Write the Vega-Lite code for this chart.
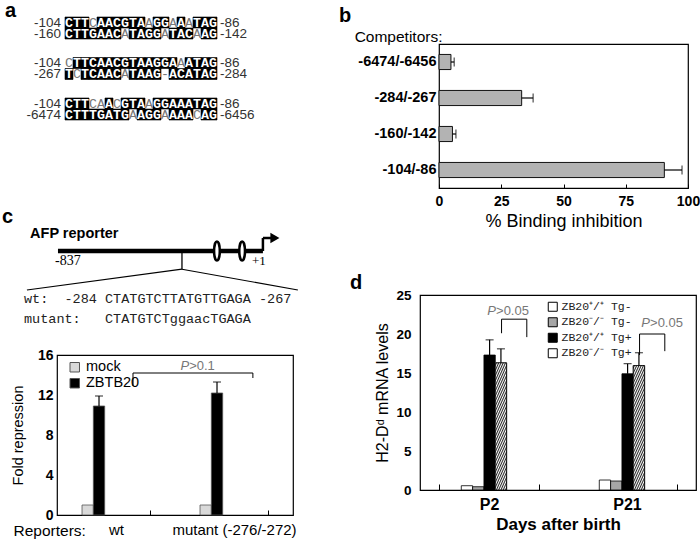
{
"$schema": "https://vega.github.io/schema/vega-lite/v6.json",
"background": "white",
"padding": {"left": 2, "top": 0, "right": 0, "bottom": 0},
"config": {
  "font": "Liberation Sans",
  "view": {"stroke": null},
  "axis": {"grid": false, "domainColor": "#000", "tickColor": "#000", "labelColor": "#000", "titleColor": "#000", "labelFont": "Liberation Sans", "titleFont": "Liberation Sans", "labelOverlap": false},
  "title": {"anchor": "start", "frame": "group", "fontSize": 20, "fontWeight": "bold", "color": "#000", "font": "Liberation Sans", "baseline": "alphabetic"},
  "legend": {"labelColor": "#000"}
},
"spacing": 39,
"resolve": {"scale": {"fill": "independent"}, "legend": {"fill": "independent"}},
"hconcat": [
  {"spacing": 19, "resolve": {"scale": {"fill": "independent"}, "legend": {"fill": "independent"}}, "vconcat": [
    {
      "width": 168, "height": 185,
      "title": {"text": "a", "dx": -52, "offset": -17.5},
      "data": {"values": [
        {"b":1,"s":1,"c":1,"t":"C","k":1},{"b":1,"s":1,"c":2,"t":"T","k":1},{"b":1,"s":1,"c":3,"t":"T","k":1},{"b":1,"s":1,"c":4,"t":"C","k":0},{"b":1,"s":1,"c":5,"t":"A","k":1},{"b":1,"s":1,"c":6,"t":"A","k":1},{"b":1,"s":1,"c":7,"t":"C","k":1},{"b":1,"s":1,"c":8,"t":"G","k":1},{"b":1,"s":1,"c":9,"t":"T","k":1},{"b":1,"s":1,"c":10,"t":"A","k":1},{"b":1,"s":1,"c":11,"t":"A","k":0},{"b":1,"s":1,"c":12,"t":"G","k":1},{"b":1,"s":1,"c":13,"t":"G","k":1},{"b":1,"s":1,"c":14,"t":"A","k":0},{"b":1,"s":1,"c":15,"t":"A","k":1},{"b":1,"s":1,"c":16,"t":"A","k":0},{"b":1,"s":1,"c":17,"t":"T","k":1},{"b":1,"s":1,"c":18,"t":"A","k":1},{"b":1,"s":1,"c":19,"t":"G","k":1},
        {"b":1,"s":2,"c":1,"t":"C","k":1},{"b":1,"s":2,"c":2,"t":"T","k":1},{"b":1,"s":2,"c":3,"t":"T","k":1},{"b":1,"s":2,"c":4,"t":"G","k":1},{"b":1,"s":2,"c":5,"t":"A","k":1},{"b":1,"s":2,"c":6,"t":"A","k":1},{"b":1,"s":2,"c":7,"t":"C","k":1},{"b":1,"s":2,"c":8,"t":"A","k":0},{"b":1,"s":2,"c":9,"t":"T","k":1},{"b":1,"s":2,"c":10,"t":"A","k":1},{"b":1,"s":2,"c":11,"t":"G","k":1},{"b":1,"s":2,"c":12,"t":"G","k":1},{"b":1,"s":2,"c":13,"t":"A","k":0},{"b":1,"s":2,"c":14,"t":"T","k":1},{"b":1,"s":2,"c":15,"t":"A","k":1},{"b":1,"s":2,"c":16,"t":"C","k":1},{"b":1,"s":2,"c":17,"t":"A","k":0},{"b":1,"s":2,"c":18,"t":"A","k":1},{"b":1,"s":2,"c":19,"t":"G","k":1},
        {"b":2,"s":1,"c":1,"t":"C","k":0},{"b":2,"s":1,"c":2,"t":"T","k":1},{"b":2,"s":1,"c":3,"t":"T","k":1},{"b":2,"s":1,"c":4,"t":"C","k":1},{"b":2,"s":1,"c":5,"t":"A","k":1},{"b":2,"s":1,"c":6,"t":"A","k":1},{"b":2,"s":1,"c":7,"t":"C","k":1},{"b":2,"s":1,"c":8,"t":"G","k":1},{"b":2,"s":1,"c":9,"t":"T","k":1},{"b":2,"s":1,"c":10,"t":"A","k":1},{"b":2,"s":1,"c":11,"t":"A","k":1},{"b":2,"s":1,"c":12,"t":"G","k":1},{"b":2,"s":1,"c":13,"t":"G","k":1},{"b":2,"s":1,"c":14,"t":"A","k":1},{"b":2,"s":1,"c":15,"t":"A","k":0},{"b":2,"s":1,"c":16,"t":"A","k":1},{"b":2,"s":1,"c":17,"t":"T","k":1},{"b":2,"s":1,"c":18,"t":"A","k":1},{"b":2,"s":1,"c":19,"t":"G","k":1},
        {"b":2,"s":2,"c":1,"t":"T","k":1},{"b":2,"s":2,"c":2,"t":"C","k":0},{"b":2,"s":2,"c":3,"t":"T","k":1},{"b":2,"s":2,"c":4,"t":"C","k":1},{"b":2,"s":2,"c":5,"t":"A","k":1},{"b":2,"s":2,"c":6,"t":"A","k":1},{"b":2,"s":2,"c":7,"t":"C","k":1},{"b":2,"s":2,"c":8,"t":"A","k":0},{"b":2,"s":2,"c":9,"t":"T","k":1},{"b":2,"s":2,"c":10,"t":"A","k":1},{"b":2,"s":2,"c":11,"t":"A","k":1},{"b":2,"s":2,"c":12,"t":"G","k":1},{"b":2,"s":2,"c":13,"t":"-","k":0},{"b":2,"s":2,"c":14,"t":"A","k":1},{"b":2,"s":2,"c":15,"t":"C","k":1},{"b":2,"s":2,"c":16,"t":"A","k":1},{"b":2,"s":2,"c":17,"t":"T","k":1},{"b":2,"s":2,"c":18,"t":"A","k":1},{"b":2,"s":2,"c":19,"t":"G","k":1},
        {"b":3,"s":1,"c":1,"t":"C","k":1},{"b":3,"s":1,"c":2,"t":"T","k":1},{"b":3,"s":1,"c":3,"t":"T","k":1},{"b":3,"s":1,"c":4,"t":"C","k":0},{"b":3,"s":1,"c":5,"t":"A","k":0},{"b":3,"s":1,"c":6,"t":"A","k":1},{"b":3,"s":1,"c":7,"t":"C","k":0},{"b":3,"s":1,"c":8,"t":"G","k":1},{"b":3,"s":1,"c":9,"t":"T","k":1},{"b":3,"s":1,"c":10,"t":"A","k":1},{"b":3,"s":1,"c":11,"t":"A","k":0},{"b":3,"s":1,"c":12,"t":"G","k":1},{"b":3,"s":1,"c":13,"t":"G","k":1},{"b":3,"s":1,"c":14,"t":"A","k":1},{"b":3,"s":1,"c":15,"t":"A","k":1},{"b":3,"s":1,"c":16,"t":"A","k":1},{"b":3,"s":1,"c":17,"t":"T","k":1},{"b":3,"s":1,"c":18,"t":"A","k":1},{"b":3,"s":1,"c":19,"t":"G","k":1},
        {"b":3,"s":2,"c":1,"t":"C","k":1},{"b":3,"s":2,"c":2,"t":"T","k":1},{"b":3,"s":2,"c":3,"t":"T","k":1},{"b":3,"s":2,"c":4,"t":"T","k":1},{"b":3,"s":2,"c":5,"t":"G","k":1},{"b":3,"s":2,"c":6,"t":"A","k":1},{"b":3,"s":2,"c":7,"t":"T","k":1},{"b":3,"s":2,"c":8,"t":"G","k":1},{"b":3,"s":2,"c":9,"t":"A","k":0},{"b":3,"s":2,"c":10,"t":"A","k":1},{"b":3,"s":2,"c":11,"t":"G","k":1},{"b":3,"s":2,"c":12,"t":"G","k":1},{"b":3,"s":2,"c":13,"t":"A","k":0},{"b":3,"s":2,"c":14,"t":"A","k":1},{"b":3,"s":2,"c":15,"t":"A","k":1},{"b":3,"s":2,"c":16,"t":"A","k":1},{"b":3,"s":2,"c":17,"t":"C","k":0},{"b":3,"s":2,"c":18,"t":"A","k":1},{"b":3,"s":2,"c":19,"t":"G","k":1}
      ]},
      "encoding": {
        "x": {"field": "c", "type": "ordinal", "scale": {"domain": [0,1,2,3,4,5,6,7,8,9,10,11,12,13,14,15,16,17,18,19,20], "paddingInner": 0, "paddingOuter": 0}, "axis": null},
        "y": {"field": "b", "type": "ordinal", "scale": {"domain": [1,2,3], "paddingInner": 0, "paddingOuter": 0.784, "align": 0.075}, "axis": null},
        "yOffset": {"field": "s", "type": "ordinal", "scale": {"domain": [1,2], "paddingInner": 0, "paddingOuter": 0.841}}
      },
      "layer": [
        {"transform": [{"filter": "datum.k === 1"}], "mark": {"type": "rect", "fill": "#000", "stroke": "#000", "strokeWidth": 0.6}},
        {"transform": [{"filter": "datum.k === 1"}], "mark": {"type": "text", "font": "Liberation Mono", "fontSize": 13.3, "fontWeight": "bold", "color": "#ffffff", "baseline": "middle"}, "encoding": {"text": {"field": "t", "type": "nominal"}}},
        {"transform": [{"filter": "datum.k === 0"}], "mark": {"type": "text", "font": "Liberation Mono", "fontSize": 13.3, "color": "#777777", "baseline": "middle"}, "encoding": {"text": {"field": "t", "type": "nominal"}}},
        {"data": {"values": [{"b":1,"s":1,"l":"-104","r":"-86"},{"b":1,"s":2,"l":"-160","r":"-142"},{"b":2,"s":1,"l":"-104","r":"-86"},{"b":2,"s":2,"l":"-267","r":"-284"},{"b":3,"s":1,"l":"-104","r":"-86"},{"b":3,"s":2,"l":"-6474","r":"-6456"}]},
         "layer": [
          {"mark": {"type": "text", "align": "right", "dx": 0, "baseline": "middle", "fontSize": 13.5, "color": "#333333"}, "encoding": {"x": {"datum": 0, "type": "ordinal"}, "text": {"field": "l", "type": "nominal"}}},
          {"mark": {"type": "text", "align": "left", "dx": -1, "baseline": "middle", "fontSize": 13.5, "color": "#333333"}, "encoding": {"x": {"datum": 20, "type": "ordinal"}, "text": {"field": "r", "type": "nominal"}}}
         ]}
      ]
    },
    {
      "width": 236, "height": 103,
      "title": {"text": "c", "dx": -55, "offset": -2},
      "encoding": {
        "x": {"field": "x", "type": "quantitative", "scale": {"domain": [-841, 124], "nice": false, "zero": false}, "axis": null},
        "y": {"field": "y", "type": "quantitative", "scale": {"domain": [-5.92, 2], "nice": false, "zero": false}, "axis": null}
      },
      "layer": [
        {"data": {"values": [{"x": -837, "x2": 1, "y": 0}]}, "mark": {"type": "rule", "color": "#000", "strokeWidth": 4.5}, "encoding": {"x2": {"field": "x2"}}},
        {"data": {"values": [{"x": -330, "y": 0, "y2": -1.4}]}, "mark": {"type": "rule", "color": "#000", "strokeWidth": 1.3}, "encoding": {"y2": {"field": "y2"}}},
        {"data": {"values": [{"x": -330, "y": -1.4, "x2": -964, "y2": -3.0}, {"x": -330, "y": -1.4, "x2": 144, "y2": -3.0}]}, "mark": {"type": "rule", "color": "#000", "strokeWidth": 1.2}, "encoding": {"x2": {"field": "x2"}, "y2": {"field": "y2"}}},
        {"data": {"values": [{"x": 1, "y": 0, "y2": 1.0}]}, "mark": {"type": "rule", "color": "#000", "strokeWidth": 2.5}, "encoding": {"y2": {"field": "y2"}}},
        {"data": {"values": [{"x": 1, "x2": 34, "y": 1.0}]}, "mark": {"type": "rule", "color": "#000", "strokeWidth": 2.5}, "encoding": {"x2": {"field": "x2"}}},
        {"data": {"values": [{"x": 50, "y": 1.0}]}, "mark": {"type": "point", "shape": "triangle-right", "size": 110, "filled": true, "color": "#000", "opacity": 1}},
        {"data": {"values": [{"x": -187, "y": 0}, {"x": -84, "y": 0}]}, "mark": {"type": "point", "shape": "M0,-1A0.3,1,0,0,1,0,1A0.3,1,0,0,1,0,-1Z", "size": 360, "filled": true, "fill": "#ffffff", "stroke": "#000", "strokeWidth": 2.5, "opacity": 1}},
        {"data": {"values": [{"x": -951, "y": 1.3, "label": "AFP reporter"}]}, "mark": {"type": "text", "align": "left", "baseline": "middle", "fontSize": 14.5, "fontWeight": "bold", "color": "#000"}, "encoding": {"text": {"field": "label"}}},
        {"data": {"values": [{"x": -837, "y": -0.8, "label": "-837"}]}, "mark": {"type": "text", "align": "left", "dx": -3, "baseline": "middle", "font": "Liberation Serif", "fontSize": 14, "color": "#000"}, "encoding": {"text": {"field": "label"}}},
        {"data": {"values": [{"x": 1, "y": -0.8, "label": "+1"}]}, "mark": {"type": "text", "align": "center", "dx": -4, "baseline": "middle", "font": "Liberation Serif", "fontSize": 13, "color": "#000"}, "encoding": {"text": {"field": "label"}}},
        {"data": {"values": [{"x": -976, "y": -3.7, "label": "wt:\u00a0\u00a0-284\u00a0CTATGTCTTATGTTGAGA\u00a0-267"}, {"x": -976, "y": -5.2, "label": "mutant:\u00a0\u00a0\u00a0CTATGTCTggaacTGAGA"}]}, "mark": {"type": "text", "align": "left", "baseline": "middle", "font": "Liberation Mono", "fontSize": 13.5, "color": "#222"}, "encoding": {"text": {"field": "label"}}}
      ]
    },
    {
      "width": 236, "height": 160,
      "view": {"stroke": "#000", "strokeWidth": 1.2},
      "layer": [
        {
          "data": {"values": [
            {"reporter": "wt", "transfection": "mock", "fold": 1.0},
            {"reporter": "wt", "transfection": "ZBTB20", "fold": 10.9, "hi": 11.9},
            {"reporter": "mutant (-276/-272)", "transfection": "mock", "fold": 1.0},
            {"reporter": "mutant (-276/-272)", "transfection": "ZBTB20", "fold": 12.2, "hi": 13.3}
          ]},
          "encoding": {
            "x": {"field": "reporter", "type": "nominal", "scale": {"domain": ["wt", "mutant (-276/-272)"], "paddingInner": 0.424, "paddingOuter": 0.212},
                  "axis": {"title": "Reporters:", "titleX": -44, "titleY": 15, "titleAlign": "left", "titleBaseline": "middle", "titleAngle": 0, "titleFontSize": 15.5, "titleFontWeight": "normal", "labelFontSize": 15, "labelAngle": 0, "tickBand": "extent", "tickSize": -5, "labelPadding": 12, "domain": false, "labelOverlap": false}},
            "xOffset": {"field": "transfection", "type": "nominal", "scale": {"domain": ["mock", "ZBTB20"], "paddingInner": 0, "paddingOuter": 0}},
            "y": {"field": "fold", "type": "quantitative", "scale": {"domain": [0, 16], "nice": false},
                  "axis": {"values": [0, 4, 8, 12, 16], "title": "Fold repression", "titleFontSize": 14.5, "titleFontWeight": "normal", "titlePadding": 12, "labelFontSize": 14, "labelFontWeight": "bold", "ticks": false, "domain": false, "labelPadding": 4, "labelOverlap": false}}
          },
          "layer": [
            {"mark": {"type": "bar", "stroke": "#555", "strokeWidth": 0.8},
             "encoding": {"fill": {"field": "transfection", "type": "nominal", "scale": {"domain": ["mock", "ZBTB20"], "range": ["#d9d9d9", "#000000"]},
               "legend": {"orient": "none", "legendX": 10.5, "legendY": 5, "title": null, "symbolType": "square", "symbolSize": 90, "symbolStrokeColor": "#555", "symbolStrokeWidth": 1, "labelFontSize": 14.5, "labelOffset": 4, "rowPadding": 1}}}},
            {"transform": [{"filter": "isValid(datum.hi)"}], "mark": {"type": "rule", "color": "#000", "strokeWidth": 1.2}, "encoding": {"y2": {"field": "hi"}}},
            {"transform": [{"filter": "isValid(datum.hi)"}], "mark": {"type": "tick", "color": "#000", "size": 8, "thickness": 1.2}, "encoding": {"y": {"field": "hi", "type": "quantitative"}}}
          ]
        },
        {
          "data": {"values": [{"x0": 0.644, "x1": 1.66, "top": 14.2, "lb": 12.9, "rb": 13.7, "px": 1.12, "py": 14.95, "p": "P", "rest": ">0.1"}]},
          "encoding": {
            "x": {"field": "x0", "type": "quantitative", "scale": {"domain": [0, 2], "nice": false, "zero": false}, "axis": null},
            "y": {"field": "top", "type": "quantitative", "scale": {"domain": [0, 16], "nice": false}, "axis": null}
          },
          "layer": [
            {"mark": {"type": "rule", "color": "#000", "strokeWidth": 1}, "encoding": {"x2": {"field": "x1"}}},
            {"mark": {"type": "rule", "color": "#000", "strokeWidth": 1}, "encoding": {"y2": {"field": "lb"}}},
            {"mark": {"type": "rule", "color": "#000", "strokeWidth": 1}, "encoding": {"x": {"field": "x1", "type": "quantitative", "scale": {"domain": [0, 2], "nice": false, "zero": false}, "axis": null}, "y2": {"field": "rb"}}},
            {"mark": {"type": "text", "align": "right", "baseline": "middle", "fontStyle": "italic", "fontSize": 13, "color": "#777"}, "encoding": {"x": {"field": "px", "type": "quantitative", "scale": {"domain": [0, 2], "nice": false, "zero": false}, "axis": null}, "y": {"field": "py", "type": "quantitative", "scale": {"domain": [0, 16], "nice": false}, "axis": null}, "text": {"field": "p"}}},
            {"mark": {"type": "text", "align": "left", "baseline": "middle", "fontSize": 13, "color": "#777"}, "encoding": {"x": {"field": "px", "type": "quantitative", "scale": {"domain": [0, 2], "nice": false, "zero": false}, "axis": null}, "y": {"field": "py", "type": "quantitative", "scale": {"domain": [0, 16], "nice": false}, "axis": null}, "text": {"field": "rest"}}}
          ]
        }
      ],
      "resolve": {"scale": {"x": "independent", "y": "independent"}}
    }
  ]},
  {"spacing": 40, "resolve": {"scale": {"fill": "independent"}, "legend": {"fill": "independent"}}, "vconcat": [
    {"spacing": -2, "vconcat": [
      {"width": 1, "height": 1, "data": {"values": [{"v": 0}]}, "mark": {"type": "point", "opacity": 0}, "encoding": {}},
      {"bounds": "flush", "spacing": 0, "hconcat": [
        {"width": 19, "height": 1, "data": {"values": [{"v": 0}]}, "mark": {"type": "point", "opacity": 0}, "encoding": {}},
        {
          "width": 249, "height": 144,
          "view": {"stroke": "#000", "strokeWidth": 1.2},
          "title": {"text": "b", "dx": -100, "offset": 3},
          "data": {"values": [
            {"competitor": "-6474/-6456", "inhibition": 4.8, "hi": 6.1},
            {"competitor": "-284/-267", "inhibition": 33.2, "hi": 37.8},
            {"competitor": "-160/-142", "inhibition": 5.4, "hi": 6.8},
            {"competitor": "-104/-86", "inhibition": 90.5, "hi": 97.6}
          ]},
          "encoding": {
            "y": {"field": "competitor", "type": "nominal", "scale": {"domain": ["-6474/-6456", "-284/-267", "-160/-142", "-104/-86"], "paddingInner": 0.58, "paddingOuter": 0.29},
                  "axis": {"title": "Competitors:", "titleAngle": 0, "titleAlign": "right", "titleBaseline": "middle", "titleX": 3, "titleY": -8, "titleFontSize": 15.5, "titleFontWeight": "normal", "labelFontSize": 14.5, "labelFontWeight": "bold", "ticks": false, "domain": false, "labelPadding": 3}}
          },
          "layer": [
            {"mark": {"type": "bar", "fill": "#b3b3b3", "stroke": "#111", "strokeWidth": 1},
             "encoding": {"x": {"field": "inhibition", "type": "quantitative", "scale": {"domain": [0, 100], "nice": false},
               "axis": {"values": [0, 25, 50, 75, 100], "title": "% Binding inhibition", "titleFontSize": 18, "titleFontWeight": "normal", "titlePadding": 4, "labelFontSize": 14, "labelFontWeight": "bold", "tickSize": -4, "labelPadding": 10, "labelFlush": false, "domain": false}}}},
            {"mark": {"type": "rule", "color": "#000", "strokeWidth": 1.2}, "encoding": {"x": {"field": "inhibition", "type": "quantitative", "scale": {"domain": [0, 100], "nice": false}}, "x2": {"field": "hi"}}},
            {"mark": {"type": "tick", "color": "#000", "size": 9, "thickness": 1.2}, "encoding": {"x": {"field": "hi", "type": "quantitative", "scale": {"domain": [0, 100], "nice": false}}}}
          ]
        }
      ]}
    ]},
    {
      "width": 276, "height": 195,
      "view": {"stroke": "#000", "strokeWidth": 1.2},
      "title": {"text": "d", "dx": -70, "offset": -4.5},
      "layer": [
        {
          "data": {"values": [
            {"age": "P2", "genotype": "ZB20⁺/⁺ Tg-", "level": 0.55},
            {"age": "P2", "genotype": "ZB20⁻/⁻ Tg-", "level": 0.42},
            {"age": "P2", "genotype": "ZB20⁺/⁺ Tg+", "level": 17.3, "hi": 19.25},
            {"age": "P2", "genotype": "ZB20⁻/⁻ Tg+", "level": 16.3, "hi": 18.1},
            {"age": "P21", "genotype": "ZB20⁺/⁺ Tg-", "level": 1.28},
            {"age": "P21", "genotype": "ZB20⁻/⁻ Tg-", "level": 1.15},
            {"age": "P21", "genotype": "ZB20⁺/⁺ Tg+", "level": 14.9, "hi": 16.2},
            {"age": "P21", "genotype": "ZB20⁻/⁻ Tg+", "level": 15.95, "hi": 17.6}
          ]},
          "encoding": {
            "x": {"field": "age", "type": "nominal", "scale": {"domain": ["P2", "P21"], "paddingInner": 0.27, "paddingOuter": 0.135},
                  "axis": {"title": "Days after birth", "titleFontSize": 17, "titleFontWeight": "bold", "titlePadding": 4, "labelFontSize": 16, "labelFontWeight": "bold", "labelAngle": 0, "tickBand": "extent", "tickSize": -6, "labelPadding": 12, "domain": false, "labelOverlap": false}},
            "xOffset": {"field": "genotype", "type": "nominal", "scale": {"domain": ["ZB20⁺/⁺ Tg-", "ZB20⁻/⁻ Tg-", "ZB20⁺/⁺ Tg+", "ZB20⁻/⁻ Tg+"], "paddingInner": 0, "paddingOuter": 0}},
            "y": {"field": "level", "type": "quantitative", "scale": {"domain": [0, 25], "nice": false},
                  "axis": {"values": [0, 5, 10, 15, 20, 25], "title": "H2-Dᵈ mRNA levels", "titleFontSize": 16, "titleFontWeight": "normal", "titlePadding": 5, "labelFontSize": 13.5, "labelFontWeight": "bold", "ticks": false, "domain": false, "labelPadding": 9, "labelOverlap": false}}
          },
          "layer": [
            {"mark": {"type": "bar", "stroke": "#000", "strokeWidth": 0.8},
             "encoding": {"fill": {"field": "genotype", "type": "nominal", "scale": {"domain": ["ZB20⁺/⁺ Tg-", "ZB20⁻/⁻ Tg-", "ZB20⁺/⁺ Tg+", "ZB20⁻/⁻ Tg+"], "range": ["#ffffff", "#a6a6a6", "#000000", "#ffffff"]},
               "legend": {"orient": "none", "legendX": 127, "legendY": 6, "title": null, "symbolType": "square", "symbolSize": 81, "symbolStrokeColor": "#000", "symbolStrokeWidth": 1, "labelFont": "Liberation Mono", "labelFontSize": 11.5, "labelColor": "#222", "labelOffset": 3, "rowPadding": 1.5,
                 "encode": {"symbols": {"update": {"stroke": {"value": "#000"}, "strokeWidth": {"value": 1}, "fill": [
                   {"test": "datum.value === 'ZB20⁻/⁻ Tg+'", "value": {"gradient": "linear", "x1": 0, "y1": 0, "x2": 1, "y2": 1, "stops": [{"offset": 0, "color": "#ffffff"}, {"offset": 0.12, "color": "#ffffff"}, {"offset": 0.12, "color": "#111111"}, {"offset": 0.22, "color": "#111111"}, {"offset": 0.22, "color": "#ffffff"}, {"offset": 0.45, "color": "#ffffff"}, {"offset": 0.45, "color": "#111111"}, {"offset": 0.55, "color": "#111111"}, {"offset": 0.55, "color": "#ffffff"}, {"offset": 0.78, "color": "#ffffff"}, {"offset": 0.78, "color": "#111111"}, {"offset": 0.88, "color": "#111111"}, {"offset": 0.88, "color": "#ffffff"}, {"offset": 1, "color": "#ffffff"}]}},
                   {"test": "datum.value === 'ZB20⁻/⁻ Tg-'", "value": "#a6a6a6"},
                   {"test": "datum.value === 'ZB20⁺/⁺ Tg+'", "value": "#000000"},
                   {"value": "#ffffff"}
                 ]}}}}}}},
            {"transform": [{"filter": "datum.genotype === 'ZB20⁻/⁻ Tg+'"}],
             "mark": {"type": "bar", "stroke": "#000", "strokeWidth": 0.8, "fill": {"gradient": "linear", "x1": 0, "y1": 0, "x2": 0.2308, "y2": 1.1538, "stops": [
               {"offset": 0, "color": "#ffffff"}, {"offset": 0.016667, "color": "#2a2a2a"}, {"offset": 0.033333, "color": "#ffffff"}, {"offset": 0.05, "color": "#2a2a2a"}, {"offset": 0.066667, "color": "#ffffff"}, {"offset": 0.083333, "color": "#2a2a2a"}, {"offset": 0.1, "color": "#ffffff"}, {"offset": 0.116667, "color": "#2a2a2a"}, {"offset": 0.133333, "color": "#ffffff"}, {"offset": 0.15, "color": "#2a2a2a"}, {"offset": 0.166667, "color": "#ffffff"}, {"offset": 0.183333, "color": "#2a2a2a"}, {"offset": 0.2, "color": "#ffffff"}, {"offset": 0.216667, "color": "#2a2a2a"}, {"offset": 0.233333, "color": "#ffffff"}, {"offset": 0.25, "color": "#2a2a2a"}, {"offset": 0.266667, "color": "#ffffff"}, {"offset": 0.283333, "color": "#2a2a2a"}, {"offset": 0.3, "color": "#ffffff"}, {"offset": 0.316667, "color": "#2a2a2a"}, {"offset": 0.333333, "color": "#ffffff"}, {"offset": 0.35, "color": "#2a2a2a"}, {"offset": 0.366667, "color": "#ffffff"}, {"offset": 0.383333, "color": "#2a2a2a"}, {"offset": 0.4, "color": "#ffffff"}, {"offset": 0.416667, "color": "#2a2a2a"}, {"offset": 0.433333, "color": "#ffffff"}, {"offset": 0.45, "color": "#2a2a2a"}, {"offset": 0.466667, "color": "#ffffff"}, {"offset": 0.483333, "color": "#2a2a2a"}, {"offset": 0.5, "color": "#ffffff"}, {"offset": 0.516667, "color": "#2a2a2a"}, {"offset": 0.533333, "color": "#ffffff"}, {"offset": 0.55, "color": "#2a2a2a"}, {"offset": 0.566667, "color": "#ffffff"}, {"offset": 0.583333, "color": "#2a2a2a"}, {"offset": 0.6, "color": "#ffffff"}, {"offset": 0.616667, "color": "#2a2a2a"}, {"offset": 0.633333, "color": "#ffffff"}, {"offset": 0.65, "color": "#2a2a2a"}, {"offset": 0.666667, "color": "#ffffff"}, {"offset": 0.683333, "color": "#2a2a2a"}, {"offset": 0.7, "color": "#ffffff"}, {"offset": 0.716667, "color": "#2a2a2a"}, {"offset": 0.733333, "color": "#ffffff"}, {"offset": 0.75, "color": "#2a2a2a"}, {"offset": 0.766667, "color": "#ffffff"}, {"offset": 0.783333, "color": "#2a2a2a"}, {"offset": 0.8, "color": "#ffffff"}, {"offset": 0.816667, "color": "#2a2a2a"}, {"offset": 0.833333, "color": "#ffffff"}, {"offset": 0.85, "color": "#2a2a2a"}, {"offset": 0.866667, "color": "#ffffff"}, {"offset": 0.883333, "color": "#2a2a2a"}, {"offset": 0.9, "color": "#ffffff"}, {"offset": 0.916667, "color": "#2a2a2a"}, {"offset": 0.933333, "color": "#ffffff"}, {"offset": 0.95, "color": "#2a2a2a"}, {"offset": 0.966667, "color": "#ffffff"}, {"offset": 0.983333, "color": "#2a2a2a"}, {"offset": 1, "color": "#ffffff"}]}}},
            {"transform": [{"filter": "isValid(datum.hi)"}], "mark": {"type": "rule", "color": "#000", "strokeWidth": 1.2}, "encoding": {"y2": {"field": "hi"}}},
            {"transform": [{"filter": "isValid(datum.hi)"}], "mark": {"type": "tick", "color": "#000", "size": 8, "thickness": 1.2}, "encoding": {"y": {"field": "hi", "type": "quantitative"}}}
          ]
        },
        {
          "data": {"values": [
            {"x0": 0.591, "x1": 0.774, "top": 21.9, "lb": 20.1, "rb": 19.6, "px": 0.551, "py": 23.0, "p": "P", "rest": ">0.05"},
            {"x0": 1.591, "x1": 1.774, "top": 20.0, "lb": 17.3, "rb": 17.8, "px": 1.667, "py": 21.4, "p": "P", "rest": ">0.05"}
          ]},
          "encoding": {
            "x": {"field": "x0", "type": "quantitative", "scale": {"domain": [0, 2], "nice": false, "zero": false}, "axis": null},
            "y": {"field": "top", "type": "quantitative", "scale": {"domain": [0, 25], "nice": false}, "axis": null}
          },
          "layer": [
            {"mark": {"type": "rule", "color": "#000", "strokeWidth": 1}, "encoding": {"x2": {"field": "x1"}}},
            {"mark": {"type": "rule", "color": "#000", "strokeWidth": 1}, "encoding": {"y2": {"field": "lb"}}},
            {"mark": {"type": "rule", "color": "#000", "strokeWidth": 1}, "encoding": {"x": {"field": "x1", "type": "quantitative", "scale": {"domain": [0, 2], "nice": false, "zero": false}, "axis": null}, "y2": {"field": "rb"}}},
            {"mark": {"type": "text", "align": "right", "baseline": "middle", "fontStyle": "italic", "fontSize": 13, "color": "#777"}, "encoding": {"x": {"field": "px", "type": "quantitative", "scale": {"domain": [0, 2], "nice": false, "zero": false}, "axis": null}, "y": {"field": "py", "type": "quantitative", "scale": {"domain": [0, 25], "nice": false}, "axis": null}, "text": {"field": "p"}}},
            {"mark": {"type": "text", "align": "left", "baseline": "middle", "fontSize": 13, "color": "#777"}, "encoding": {"x": {"field": "px", "type": "quantitative", "scale": {"domain": [0, 2], "nice": false, "zero": false}, "axis": null}, "y": {"field": "py", "type": "quantitative", "scale": {"domain": [0, 25], "nice": false}, "axis": null}, "text": {"field": "rest"}}}
          ]
        }
      ],
      "resolve": {"scale": {"x": "independent", "y": "independent"}}
    }
  ]}
]
}
